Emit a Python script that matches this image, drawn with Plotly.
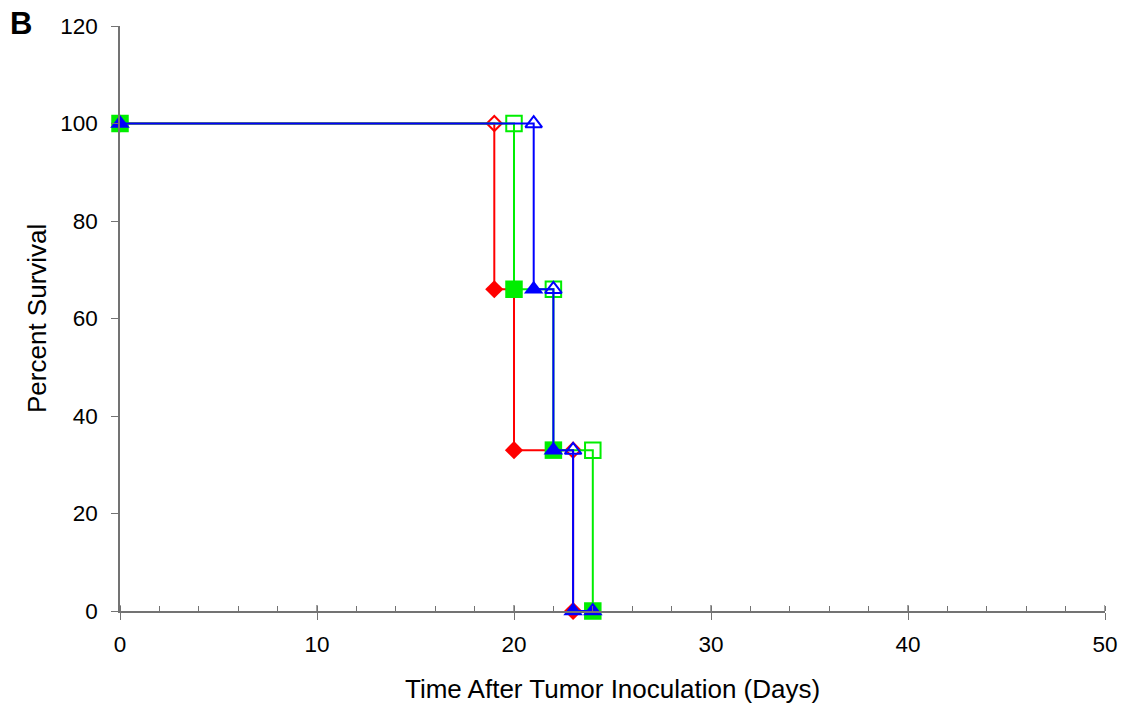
import plotly.graph_objects as go

# Survival data: day of each event and percent surviving after it
red_days = [0, 19, 20, 23]
red_surv = [100, 66, 33, 0]

green_days = [0, 20, 22, 24]
green_surv = [100, 66, 33, 0]

blue_days = [0, 21, 22, 23, 24]
blue_surv = [100, 66, 33, 0, 0]

x_ticks = [0, 10, 20, 30, 40, 50]
y_ticks = [0, 20, 40, 60, 80, 100, 120]

FONT = "Liberation Sans, Arial, sans-serif"
AXIS_GRAY = "#737373"

# name, colour, symbol, days, survival, filled size, open size
series = [
    ("red", "#ff0000", "diamond", red_days, red_surv, 14, 11.5),
    ("green", "#00ee00", "square", green_days, green_surv, 17.5, 15.5),
    ("blue", "#0000ff", "triangle-up", blue_days, blue_surv, 17, 14.5),
]

fig = go.Figure()

for name, color, symbol, days, surv, fsize, osize in series:
    # step curve with filled markers at each event
    fig.add_trace(go.Scatter(
        x=days, y=surv, mode="lines+markers", line=dict(color=color, width=2, shape="hv"),
        marker=dict(symbol=symbol, size=fsize, color=color, line=dict(width=0)),
        cliponaxis=False, showlegend=False, name=name,
    ))
    # open markers at the step corners (level before each drop)
    corner_pairs = [(days[i + 1], surv[i]) for i in range(len(days) - 1) if surv[i] > 0]
    fig.add_trace(go.Scatter(
        x=[p[0] for p in corner_pairs], y=[p[1] for p in corner_pairs], mode="markers",
        marker=dict(symbol=symbol + "-open", size=osize, color=color, line=dict(width=2, color=color)),
        cliponaxis=False, showlegend=False, name=name + " corner",
    ))

tick_font = dict(family=FONT, size=22.5, color="#000000")
title_font = dict(family=FONT, size=26, color="#000000")

# inner half of the major x ticks (they cross the axis line)
shapes = [
    dict(type="line", xref="x", yref="paper", x0=t, x1=t, y0=0, y1=6 / 585,
         line=dict(color=AXIS_GRAY, width=1.3))
    for t in x_ticks
]

fig.update_layout(
    width=1130, height=708,
    margin=dict(l=120, r=25, t=26, b=97),
    paper_bgcolor="white", plot_bgcolor="white",
    font=tick_font,
    xaxis=dict(
        range=[0, 50], tickvals=x_ticks, showgrid=False, zeroline=False,
        showline=True, linecolor=AXIS_GRAY, linewidth=1.5,
        ticks="outside", ticklen=7, tickwidth=1.3, tickcolor=AXIS_GRAY,
        minor=dict(ticks="inside", dtick=2, ticklen=5, tickwidth=1.1, tickcolor=AXIS_GRAY, showgrid=False),
        tickfont=tick_font, ticklabelstandoff=5,
    ),
    yaxis=dict(
        range=[0, 120], tickvals=y_ticks, showgrid=False, zeroline=False,
        showline=True, linecolor=AXIS_GRAY, linewidth=1.5,
        ticks="outside", ticklen=7, tickwidth=1.3, tickcolor=AXIS_GRAY,
        tickfont=tick_font, ticklabelstandoff=9,
    ),
    shapes=shapes,
    annotations=[
        dict(text="<b>B</b>", x=(8 - 120) / 985, y=(708 - 97 - 23) / 585, xref="paper", yref="paper",
             xanchor="left", yanchor="middle", showarrow=False,
             font=dict(family=FONT, size=31, color="#000000")),
        dict(text="Time After Tumor Inoculation (Days)", x=0.5, y=-(689 - 611) / 585,
             xref="paper", yref="paper", xanchor="center", yanchor="middle", showarrow=False,
             font=title_font),
        dict(text="Percent Survival", x=(37 - 120) / 985, y=(611 - 319) / 585, textangle=-90,
             xref="paper", yref="paper", xanchor="center", yanchor="middle", showarrow=False,
             font=title_font),
    ],
)

fig.write_html("out.html")
